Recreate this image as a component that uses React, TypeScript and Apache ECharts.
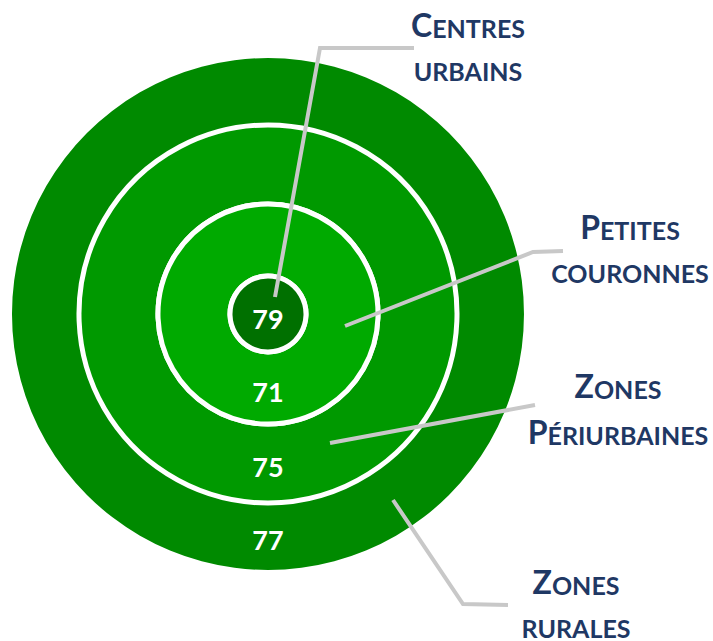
import React, { useEffect, useRef } from 'react';
import * as echarts from 'echarts';

const rings = ['Centres urbains', 'Petites couronnes', 'Zones périurbaines', 'Zones rurales'];
const values = [79, 71, 75, 77];
const ringColors = ['#007000', '#00AA00', '#009900', '#008A00'];
const ringRadii = [[0, 38], [38, 110], [110, 189], [189, 256]];
const labelLines = [
  ['{a|C}{b|ENTRES}', '{b|URBAINS}'],
  ['{a|P}{b|ETITES}', '{b|COURONNES}'],
  ['{a|Z}{b|ONES}', '{a|P}{b|ÉRIURBAINES}'],
  ['{a|Z}{b|ONES}', '{b|RURALES}'],
];

const CENTER = [268, 314];
const labelPos = [
  [468, 35, 78],
  [630, 237, 280],
  [618, 396, 442],
  [576, 592, 635],
];
const leaders = [
  [[275, 297], [320, 48], [414, 48]],
  [[345, 326], [533, 252], [563, 251]],
  [[330, 443], [535, 405]],
  [[393, 500], [463, 604], [508, 605]],
];

export default function App() {
  const ref = useRef<HTMLDivElement>(null);
  useEffect(() => {
    if (!ref.current) return;
    const chart = echarts.init(ref.current, null, { renderer: 'svg' });
    const font = 'Lato';
    const series: any[] = rings.map((name, i) => ({
      type: 'pie',
      name,
      center: CENTER,
      radius: ringRadii[i],
      startAngle: 90,
      clockwise: true,
      silent: true,
      avoidLabelOverlap: false,
      z: 10 - i,
      itemStyle: { color: ringColors[i], borderColor: '#ffffff', borderWidth: i === 3 ? 0 : 5 },
      label: {
        show: true,
        position: i === 0 ? 'center' : 'inside',
        formatter: '{c}',
        color: '#ffffff',
        fontFamily: font,
        fontWeight: 'bold',
        fontSize: 27,
        offset: i === 0 ? [0, 4] : [0, 0],
      },
      labelLine: { show: false },
      emphasis: { disabled: true },
      data: [{ name, value: values[i] }],
    }));
    const graphics: any[] = [];
    leaders.forEach((pts) => {
      graphics.push({
        type: 'polyline',
        shape: { points: pts },
        style: { stroke: '#C8C8C8', lineWidth: 4, fill: null },
        z: 100,
      });
    });
    labelLines.forEach((lines, i) => {
      const [x, y1, y2] = labelPos[i];
      [y1, y2].forEach((y, j) => {
        graphics.push({
          type: 'text',
          x,
          y: y + 5,
          z: 100,
          style: {
            text: lines[j],
            align: 'center',
            verticalAlign: 'bottom',
            fill: '#1F3864',
            rich: {
              a: { fontSize: 32, fontFamily: font, fontWeight: 'bold', fill: '#1F3864', verticalAlign: 'bottom' },
              b: { fontSize: 25, fontFamily: font, fontWeight: 'bold', fill: '#1F3864', verticalAlign: 'bottom' },
            },
          },
        });
      });
    });
    chart.setOption({
      animation: false,
      backgroundColor: '#ffffff',
      series,
      graphic: graphics,
    });
    return () => chart.dispose();
  }, []);
  return (
    <div
      ref={ref}
      style={{ position: 'absolute', left: 0, top: 0, width: 713, height: 641 }}
    />
  );
}
